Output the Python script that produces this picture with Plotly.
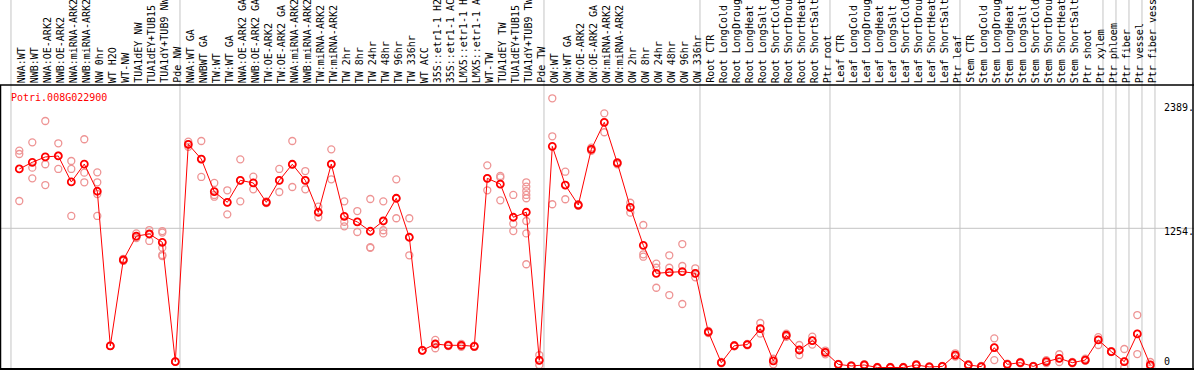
import plotly.graph_objects as go

gene = "Potri.008G022900"

labels = [
    "NWA:WT", "NWB:WT", "NWA:OE-ARK2", "NWB:OE-ARK2", "NWA:miRNA-ARK2", "NWB:miRNA-ARK2",
    "NW 0hr", "WT H2O", "WT-NW", "TUA1dEY NW", "TUA1dEY+TUB15", "TUA1dY+TUB9 NW", "Pde NW",
    "NWA:WT GA", "NWBWT GA", "TW:WT", "TW:WT GA", "NWA:OE-ARK2 GA", "NWB:OE-ARK2 GA",
    "TW:OE-ARK2", "TW:OE-ARK2 GA", "NWA:miRNA-ARK2", "NWB:miRNA-ARK2", "TW:miRNA-ARK2",
    "TW:miRNA-ARK2", "TW 2hr", "TW 8hr", "TW 24hr", "TW 48hr", "TW 96hr", "TW 336hr", "WT ACC",
    "35S::etr1-1 H2", "35S::etr1-1 AC", "LMX5::etr1-1 H", "LMX5::etr1-1 A", "WT-TW",
    "TUA1dEY TW", "TUA1dEY+TUB15", "TUA1dY+TUB9 TW", "Pde TW",
    "OW:WT", "OW:WT GA", "OW:OE-ARK2", "OW:OE-ARK2 GA", "OW:miRNA-ARK2", "OW:miRNA-ARK2",
    "OW 2hr", "OW 8hr", "OW 24hr", "OW 48hr", "OW 96hr", "OW 336hr",
    "Root CTR", "Root LongCold", "Root LongDroug", "Root LongHeat", "Root LongSalt",
    "Root ShortCold", "Root ShortDrou", "Root ShortHeat", "Root ShortSalt", "Ptr root",
    "Leaf CTR", "Leaf LongCold", "Leaf LongDroug", "Leaf LongHeat", "Leaf LongSalt",
    "Leaf ShortCold", "Leaf ShortDrou", "Leaf ShortHeat", "Leaf ShortSalt", "Ptr leaf",
    "Stem CTR", "Stem LongCold", "Stem LongDroug", "Stem LongHeat", "Stem LongSalt",
    "Stem ShortCold", "Stem ShortDrou", "Stem ShortHeat", "Stem ShortSalt", "Ptr shoot",
    "Ptr xylem", "Ptr phloem", "Ptr fiber", "Ptr vessel", "Ptr fiber vess",
]

means = [
    1797, 1858, 1907, 1916, 1678, 1842, 1593, 177, 964, 1183, 1202, 1126, 33,
    2023, 1888, 1589, 1492, 1693, 1669, 1492, 1693, 1840, 1693, 1401, 1842, 1364, 1312,
    1227, 1321, 1529, 1172, 137, 195, 183, 183, 174, 1711, 1659, 1355, 1401, 46,
    2004, 1650, 1467, 1977, 2224, 1852, 1446, 1098, 842, 851, 857, 842,
    305, 24, 179, 189, 335, 40, 275, 140, 225, 119,
    9, -6, 3, -20, -20, -20, 3, -15, -10, 94,
    3, -12, 161, 9, 24, -10, 33, 64, 24, 48, 232,
    125, 33, 287, 3,
]

replicates = [
    [1965, 1934, 1504], [2041, 1809, 1711], [2236, 1840, 1650], [2032, 1919, 1797],
    [1870, 1797, 1367], [2069, 1763, 1675], [1766, 1675, 1568, 1367], [177, 177, 177],
    [975, 964, 955], [1207, 1177, 1165], [1238, 1202, 1138], [1229, 1215, 1077, 1010, 1000],
    [33, 33, 33],
    [2047, 2023, 2000], [2053, 1888, 1724], [1669, 1559, 1543], [1602, 1492, 1382],
    [1885, 1693, 1501], [1727, 1669, 1611], [1500, 1492, 1484], [1797, 1693, 1586],
    [2053, 1840, 1632], [1778, 1693, 1611], [1452, 1401, 1355], [1977, 1842, 1702],
    [1501, 1314, 1272], [1412, 1312, 1220], [1522, 1081, 1075], [1501, 1236, 1207],
    [1702, 1529, 1346], [1346, 1172, 1007], [137, 137, 137], [232, 195, 156],
    [190, 183, 176], [195, 183, 170], [180, 174, 168], [1830, 1711, 1602],
    [1733, 1720, 1510], [1559, 1296, 1229],
    [1675, 1635, 1595, 1559, 1529, 1321, 1207, 925], [94, 46, 3],
    [2444, 2096, 1474], [1772, 1650, 1520], [1475, 1467, 1460], [1992, 1977, 1962],
    [2306, 2224, 2133], [1860, 1852, 1840], [1488, 1446, 1397], [1284, 1016, 994],
    [930, 893, 710], [1007, 893, 643], [1110, 909, 561], [888, 842, 805],
    [315, 305, 295], [30, 24, 18], [185, 179, 173], [195, 189, 183], [387, 335, 290],
    [60, 40, 9], [290, 275, 260], [186, 140, 94], [262, 225, 190], [135, 119, 100],
    [12, 9, 5], [0, -6, -10], [10, 3, -3], [-15, -20, -25], [-15, -20, -25],
    [-15, -20, -25], [10, 3, -3], [-10, -15, -20], [-5, -10, -15], [110, 94, 80],
    [10, 3, -3], [-6, -12, -18], [247, 161, 48], [15, 9, 3], [30, 24, 18],
    [-5, -10, -15], [47, 33, 20], [101, 64, 30], [30, 24, 18], [60, 48, 40],
    [257, 232, 186], [130, 125, 120], [149, 33, -20], [460, 287, 103], [30, 3, -10],
]

group_breaks = [0, 13, 41, 53, 63, 73, 84, 85, 86, 87, 88]
ytick_vals = [2389, 1254, 0]
ytick_text = ["2389.", "1254.", "0"]

W, H = 1194, 370
FONT = "DejaVu Sans Mono"


def px_x(px):
    return px / W


def px_y(py):
    return 1 - py / H


# pixel geometry: column i centre at 19.3 + 13*i ; value v at 365.3 - v/9.153
x_range = [-19.3 / 13, (W - 19.3) / 13]
y_bot_px, y_top_px = 369, 85
y_range = [(365.3 - y_bot_px) * 9.153, (365.3 - y_top_px) * 9.153]

idx = list(range(len(labels)))
rep_x, rep_y = [], []
for i, reps in enumerate(replicates):
    for r in reps:
        rep_x.append(i)
        rep_y.append(r)

fig = go.Figure()
fig.add_trace(go.Scatter(
    x=rep_x, y=rep_y, mode="markers",
    marker=dict(symbol="circle-open", size=7, color="#ee9494", line=dict(width=1.3)),
    hoverinfo="skip", showlegend=False,
))
fig.add_trace(go.Scatter(
    x=idx, y=means, mode="lines+markers",
    line=dict(color="#ff0000", width=1),
    marker=dict(symbol="circle-open", size=7, color="#ff0000", line=dict(width=1.8)),
    showlegend=False,
))

shapes = []
for k in group_breaks:
    shapes.append(dict(type="line", xref="x", yref="paper", x0=k - 0.64, x1=k - 0.64,
                       y0=0, y1=1, line=dict(color="#c4c4c4", width=1), layer="below"))
shapes.append(dict(type="line", xref="paper", yref="y", x0=0, x1=1, y0=1254, y1=1254,
                   line=dict(color="#c4c4c4", width=1), layer="below"))
# black frame
shapes.append(dict(type="line", xref="paper", yref="paper", x0=0, x1=1,
                   y0=px_y(85), y1=px_y(85), line=dict(color="black", width=1.5)))
shapes.append(dict(type="line", xref="paper", yref="paper", x0=0, x1=1,
                   y0=px_y(369), y1=px_y(369), line=dict(color="black", width=2)))
shapes.append(dict(type="line", xref="paper", yref="paper", x0=px_x(0.5), x1=px_x(0.5),
                   y0=px_y(85), y1=px_y(370), line=dict(color="black", width=1.5)))
shapes.append(dict(type="line", xref="paper", yref="paper", x0=px_x(1193), x1=px_x(1193),
                   y0=0, y1=1, line=dict(color="black", width=1.5)))

annotations = []
for i, lab in enumerate(labels):
    annotations.append(dict(
        x=i, xref="x", y=px_y(84), yref="paper", text=lab, textangle=-90,
        xanchor="center", yanchor="bottom", showarrow=False, xshift=2,
        font=dict(family=FONT, size=10, color="black"), borderpad=0,
    ))
annotations.append(dict(
    x=px_x(9), xref="paper", y=px_y(97.5), yref="paper", text=gene,
    xanchor="left", yanchor="middle", showarrow=False,
    font=dict(family=FONT, size=10, color="#ff0000"),
))
for v, t in zip(ytick_vals, ytick_text):
    py = 365.3 - v / 9.153 + 3.4
    py = min(py, 361.7)
    annotations.append(dict(
        x=px_x(1162), xref="paper", y=px_y(py), yref="paper", text=t,
        xanchor="left", yanchor="middle", showarrow=False,
        font=dict(family=FONT, size=10, color="black"),
    ))

fig.update_layout(
    width=W, height=H,
    margin=dict(l=0, r=0, t=0, b=0),
    paper_bgcolor="white", plot_bgcolor="white",
    xaxis=dict(range=x_range, domain=[0, 1], showgrid=False, zeroline=False,
               showticklabels=False, ticks="", showline=False, fixedrange=True),
    yaxis=dict(range=y_range, domain=[px_y(y_bot_px), px_y(y_top_px)], showgrid=False,
               zeroline=False, showticklabels=False, ticks="", showline=False,
               fixedrange=True),
    shapes=shapes,
    annotations=annotations,
    showlegend=False,
)

fig.write_html(
    "out.html",
    config={"displayModeBar": False},
    post_script="document.body.style.margin='0';document.body.style.overflow='hidden';",
)
